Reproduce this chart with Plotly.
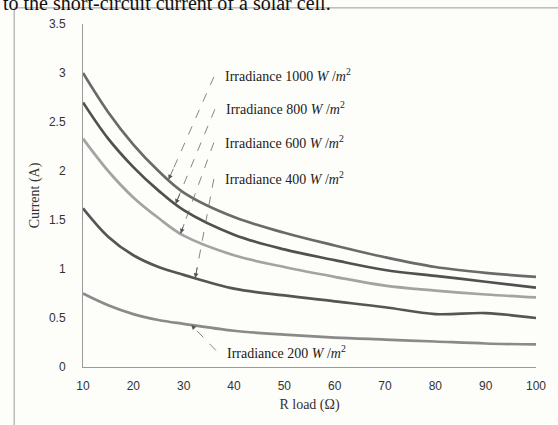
import numpy as np
import plotly.graph_objects as go

# ---- data ----
r_load = [10, 15, 20, 25, 30, 40, 50, 60, 70, 80, 90, 100]
i_1000 = [3.00, 2.60, 2.27, 2.00, 1.78, 1.53, 1.37, 1.24, 1.12, 1.02, 0.96, 0.92]
i_800 = [2.70, 2.33, 2.04, 1.80, 1.60, 1.35, 1.20, 1.09, 0.99, 0.93, 0.87, 0.81]
i_600 = [2.33, 2.00, 1.73, 1.52, 1.34, 1.14, 1.02, 0.92, 0.83, 0.78, 0.74, 0.71]
i_400 = [1.62, 1.33, 1.14, 1.02, 0.94, 0.80, 0.73, 0.67, 0.61, 0.54, 0.55, 0.50]
i_200 = [0.75, 0.63, 0.54, 0.48, 0.44, 0.37, 0.33, 0.30, 0.28, 0.26, 0.24, 0.23]

series_names = ["1000", "800", "600", "400", "200"]
series_vals = [i_1000, i_800, i_600, i_400, i_200]
series_colors = ["#6a6a6a", "#505050", "#a3a3a3", "#555555", "#8a8a8a"]

x_ticks = [10, 20, 30, 40, 50, 60, 70, 80, 90, 100]
y_ticks = [0, 0.5, 1, 1.5, 2, 2.5, 3, 3.5]
y_ticktext = ["0", "0.5", "1", "1.5", "2", "2.5", "3", "3.5"]

# label positions (data coords) and arrow targets (x on the curve)
label_pos = [(37.9, 2.98), (38.1, 2.64), (37.9, 2.30), (37.9, 1.93), (38.3, 0.15)]
arrow_tail = [(36.0, 2.96), (36.2, 2.63), (36.0, 2.29), (36.0, 1.92), (36.4, 0.17)]
arrow_tip_x = [27.0, 28.4, 29.4, 32.3, 31.5]

fig = go.Figure()
for name, vals, col in zip(series_names, series_vals, series_colors):
    fig.add_trace(go.Scatter(x=r_load, y=vals, mode="lines", name=name,
                             line=dict(color=col, width=2.7, shape="spline", smoothing=1.0),
                             showlegend=False))

serif = "Liberation Serif, Times New Roman, serif"
sans = "Liberation Sans, Arial, sans-serif"
annotations = []
shapes = []
for name, vals, (lx, ly), (tx, ty), ax_x in zip(series_names, series_vals, label_pos, arrow_tail, arrow_tip_x):
    annotations.append(dict(
        x=lx, y=ly, xref="x", yref="y", xanchor="left", yanchor="middle",
        text=f"Irradiance {name} <i>W</i> /<i>m</i><sup>2</sup>",
        showarrow=False, font=dict(family=serif, size=14, color="#222")))
    tip_y = float(np.interp(ax_x, r_load, vals))
    shapes.append(dict(type="line", xref="x", yref="y", x0=tx, y0=ty, x1=ax_x, y1=tip_y,
                       line=dict(color="#666", width=0.8, dash="dash")))
    sx = ax_x + (tx - ax_x) * 0.12
    sy = tip_y + (ty - tip_y) * 0.12
    annotations.append(dict(x=ax_x, y=tip_y, xref="x", yref="y", ax=sx, ay=sy,
                            axref="x", ayref="y", text="", showarrow=True,
                            arrowhead=2, arrowsize=1.2, arrowwidth=0.8, arrowcolor="#555"))

# cut-off caption text at the top of the page
annotations.append(dict(x=-0.18, y=1.062, xref="paper", yref="paper", xanchor="left",
                        yanchor="middle", showarrow=False,
                        text="to the short-circuit current of a solar cell.",
                        font=dict(family=serif, size=20, color="#111")))

# chart border
shapes.append(dict(type="rect", xref="paper", yref="paper", x0=-0.152, x1=1.2, y0=-0.4, y1=1.047,
                   line=dict(color="#9a9a9a", width=1), fillcolor="rgba(0,0,0,0)", layer="below"))

fig.update_layout(
    width=558, height=425,
    margin=dict(l=83, r=15, t=24, b=58),
    paper_bgcolor="#fdfdfa", plot_bgcolor="#fdfdfa",
    annotations=annotations, shapes=shapes,
    xaxis=dict(range=[10, 100], tickvals=x_ticks, showgrid=False, zeroline=False,
               showline=True, linecolor="#9a9a9a", linewidth=1, ticks="",
               ticklabelstandoff=8,
               tickfont=dict(family=sans, size=12, color="#333"),
               title=dict(text="R load (Ω)", font=dict(family=serif, size=14, color="#333"),
                          standoff=6)),
    yaxis=dict(range=[0, 3.5], tickvals=y_ticks, ticktext=y_ticktext, showgrid=False,
               zeroline=False, showline=True, linecolor="#9a9a9a", linewidth=1, ticks="",
               ticklabelstandoff=14,
               tickfont=dict(family=sans, size=12, color="#333"),
               title=dict(text="Current (A)", font=dict(family=serif, size=14, color="#333"),
                          standoff=6)),
)

fig.write_html("out.html")
